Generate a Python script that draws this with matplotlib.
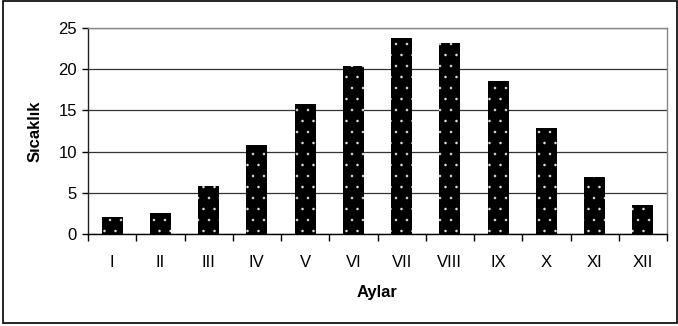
import numpy as np
import matplotlib
matplotlib.use("Agg")
from matplotlib import pyplot as plt
from matplotlib.patches import Rectangle

months = ["I", "II", "III", "IV", "V", "VI", "VII", "VIII", "IX", "X", "XI", "XII"]
temps = [2.1, 2.6, 5.8, 10.8, 15.8, 20.4, 23.8, 23.2, 18.6, 12.9, 6.9, 3.5]

# low dpi so the hatch cell (one inch) gives the fine dot spacing; k rescales point sizes
DPI = 66
k = 100 / DPI

plt.rcParams['font.family'] = ['Liberation Sans', 'DejaVu Sans']
plt.rcParams['hatch.linewidth'] = 0.3
plt.rcParams['hatch.color'] = '#e0e0e0'

fig = plt.figure(figsize=(678 / DPI, 326 / DPI), dpi=DPI)
ax = fig.add_axes([88/678, 1-234/326, (667-88)/678, (234-28)/326])

x = np.arange(len(months))
ax.bar(x, temps, width=0.44, color="black", edgecolor="#e0e0e0", linewidth=0, hatch=".", zorder=3)

ax.set_xlim(-0.5, 11.5)
ax.set_ylim(0, 25)
ax.set_yticks([0, 5, 10, 15, 20, 25])
ax.yaxis.grid(True, color="#333333", linewidth=0.9 * k, zorder=0)

fs = 12 * k
ax.set_xticks(x)
ax.set_xticklabels(months)
ax.set_xticks(np.arange(-0.5, 12, 1), minor=True)
ax.tick_params(axis="x", which="major", length=0, pad=15 * k, labelsize=fs)
ax.tick_params(axis="x", which="minor", length=5 * k, width=1 * k, direction="out")
ax.tick_params(axis="y", length=4 * k, width=1 * k, labelsize=fs, pad=4 * k)

for side in ["top", "right"]:
    ax.spines[side].set_color("#888888")
ax.spines["left"].set_color("#222222")
ax.spines["bottom"].set_color("black")
for sp in ax.spines.values():
    sp.set_linewidth(1 * k)

ax.set_xlabel("Aylar", fontweight="bold", fontsize=fs, labelpad=11 * k)
ax.set_ylabel("Sıcaklık", fontweight="bold", fontsize=fs, labelpad=11 * k)

fig.patches.append(Rectangle((3/678, 3/326), 674/678, 322/326, transform=fig.transFigure,
                             fill=False, edgecolor="black", linewidth=1.2 * k))

fig.savefig("out.png", dpi=DPI)
